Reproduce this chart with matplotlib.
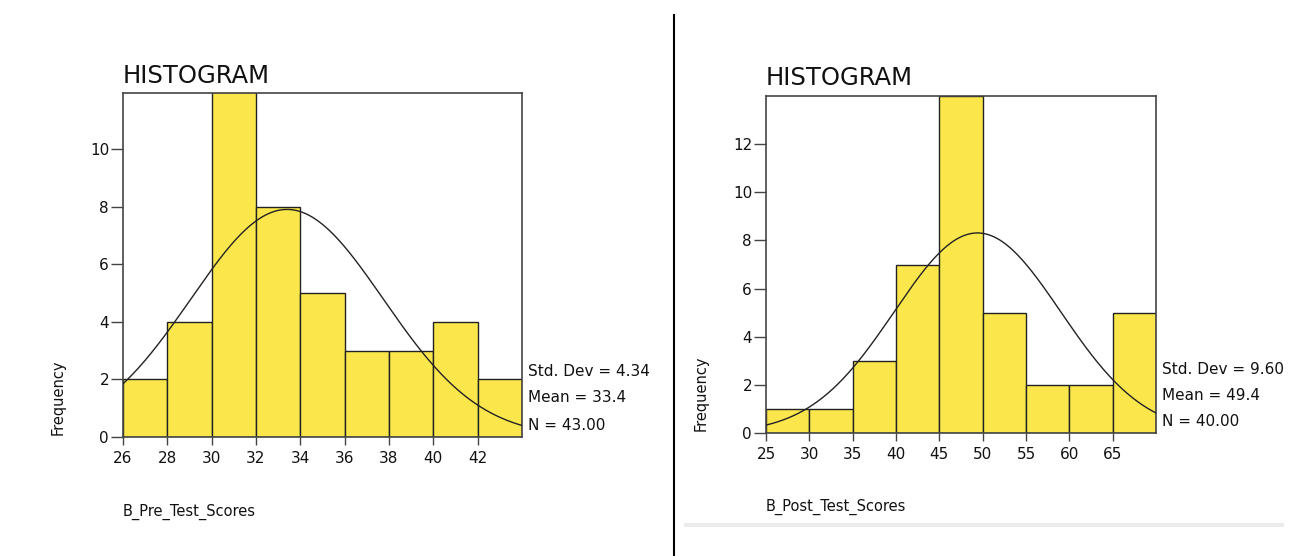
import numpy as np
import matplotlib
matplotlib.use("Agg")
import matplotlib.pyplot as plt
from matplotlib.lines import Line2D

# Data
pre_bin_edges = [26, 28, 30, 32, 34, 36, 38, 40, 42, 44]
pre_counts = [2, 4, 12, 8, 5, 3, 3, 4, 2]
pre_mean, pre_sd, pre_n = 33.4, 4.34, 43
pre_xticks = [26, 28, 30, 32, 34, 36, 38, 40, 42]
pre_yticks = [0, 2, 4, 6, 8, 10]

post_bin_edges = [25, 30, 35, 40, 45, 50, 55, 60, 65, 70]
post_counts = [1, 1, 3, 7, 14, 5, 2, 2, 5]
post_mean, post_sd, post_n = 49.4, 9.60, 40
post_xticks = [25, 30, 35, 40, 45, 50, 55, 60, 65]
post_yticks = [0, 2, 4, 6, 8, 10, 12]

W, H = 1292, 556
fig = plt.figure(figsize=(W / 100, H / 100), dpi=100)
plt.rcParams['font.family'] = ['DejaVu Sans']

BAR = '#FBE74C'
FRAME = '#444444'

def px(x0, y0, x1, y1):
    return [x0 / W, 1 - y1 / H, (x1 - x0) / W, (y1 - y0) / H]

def draw(rect, edges, counts, mean, sd, n, xticks, yticks, ytop,
         title_y, xlabel, xlabel_y, freq_x, freq_y, stat_x, stat_ys):
    ax = fig.add_axes(px(*rect))
    edges = np.array(edges, dtype=float)
    widths = np.diff(edges)
    ax.bar(edges[:-1], counts, width=widths, align='edge', color=BAR,
           edgecolor='#222222', linewidth=1.0, zorder=2)
    xs = np.linspace(edges[0], edges[-1], 400)
    bw = widths[0]
    ys = n * bw / (sd * np.sqrt(2 * np.pi)) * np.exp(-0.5 * ((xs - mean) / sd) ** 2)
    ax.plot(xs, ys, color='#222222', linewidth=1.0, zorder=3)
    ax.set_xlim(edges[0], edges[-1])
    ax.set_ylim(0, ytop)
    ax.set_xticks(xticks)
    ax.set_yticks(yticks)
    for s in ax.spines.values():
        s.set_color(FRAME)
        s.set_linewidth(1.2)
    ax.tick_params(axis='y', direction='out', length=9, width=1.0,
                   color=FRAME, labelsize=11, labelcolor='#111111', pad=1)
    ax.tick_params(axis='x', direction='out', length=6, width=1.0,
                   color=FRAME, labelsize=11, labelcolor='#111111', pad=4)
    fig.text(rect[0] / W, 1 - title_y / H, 'HISTOGRAM', fontsize=17.5,
             ha='left', va='baseline', color='#111111')
    fig.text(rect[0] / W, 1 - xlabel_y / H, xlabel, fontsize=10.5,
             ha='left', va='center', color='#111111')
    fig.text(freq_x / W, 1 - freq_y / H, 'Frequency', fontsize=10.5,
             rotation=90, ha='center', va='center', color='#111111')
    labels = ['Std. Dev = %.2f' % sd, 'Mean = %.1f' % mean, 'N = %.2f' % n]
    for lab, yy in zip(labels, stat_ys):
        fig.text(stat_x / W, 1 - yy / H, lab, fontsize=11, ha='left',
                 va='center', color='#111111')
    return ax

draw((123, 93, 522, 437), pre_bin_edges, pre_counts, pre_mean, pre_sd, pre_n,
     pre_xticks, pre_yticks, 11.95, 83, 'B_Pre_Test_Scores', 512, 58, 397,
     528, [372, 398, 425])
draw((766, 96, 1156, 433), post_bin_edges, post_counts, post_mean, post_sd, post_n,
     post_xticks, post_yticks, 14.0, 85, 'B_Post_Test_Scores', 507, 701, 393,
     1162, [370, 396, 421])

# divider line and faint bottom rule
fig.add_artist(Line2D([674 / W, 674 / W], [0, 1 - 15 / H], color='black',
                      linewidth=1.5, transform=fig.transFigure))
fig.add_artist(Line2D([686 / W, 1282 / W], [1 - 525 / H, 1 - 525 / H],
                      color='#ececec', linewidth=3, transform=fig.transFigure))

fig.savefig('out.png', dpi=100)
